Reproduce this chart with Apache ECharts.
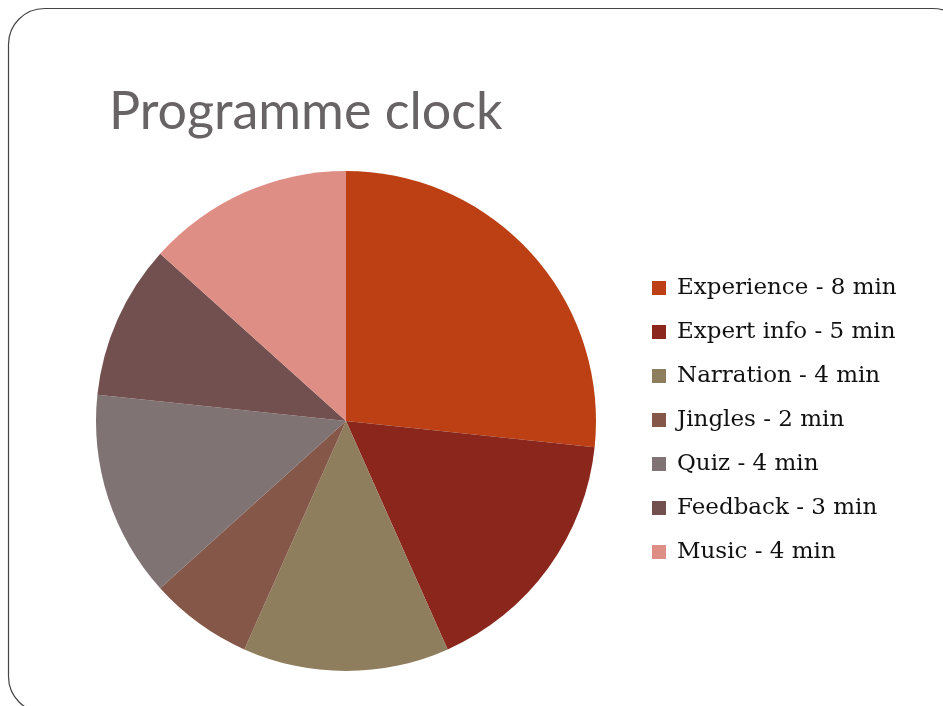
<!DOCTYPE html>
<html>
<head>
<meta charset="utf-8">
<script src="https://cdn.jsdelivr.net/npm/echarts@6/dist/echarts.min.js"></script>
<style>
html,body{margin:0;padding:0;background:#fff;}
#chart{width:943px;height:706px;}
</style>
</head>
<body>
<div id="chart"></div>
<script>
var categories = ['Experience', 'Expert info', 'Narration', 'Jingles', 'Quiz', 'Feedback', 'Music'];
var minutes = [8, 5, 4, 2, 4, 3, 4];
var colors = ['#BC4013', '#8A261C', '#8F7E5E', '#845748', '#807373', '#735050', '#DE8E85'];

var chart = echarts.init(document.getElementById('chart'), null, {renderer: 'canvas'});
var data = categories.map(function (c, i) {
  return { name: c + ' - ' + minutes[i] + ' min', value: minutes[i], itemStyle: { color: colors[i] } };
});
chart.setOption({
  animation: false,
  backgroundColor: '#fff',
  title: {
    text: 'Programme clock',
    left: 104,
    top: 81,
    textStyle: { fontFamily: 'Lato', fontWeight: 'normal', fontSize: 52, color: '#686364' }
  },
  graphic: [{
    type: 'rect',
    shape: { x: 8.5, y: 8.5, width: 960, height: 704, r: 36 },
    style: { fill: 'none', stroke: '#444', lineWidth: 1.2 },
    silent: true,
    z: -1
  }],
  legend: {
    orient: 'vertical',
    left: 652,
    top: 276,
    padding: 0,
    itemWidth: 14,
    itemHeight: 14,
    itemGap: 20,
    icon: 'rect',
    textStyle: { fontFamily: 'DejaVu Serif', fontSize: 23, lineHeight: 24, color: '#111', padding: [0, 0, 0, 6] },
    selectedMode: false
  },
  series: [{
    type: 'pie',
    center: [346, 421],
    radius: 250,
    startAngle: 90,
    clockwise: true,
    label: { show: false },
    labelLine: { show: false },
    itemStyle: { borderWidth: 0 },
    emphasis: { disabled: true },
    data: data
  }]
});
</script>
</body>
</html>
